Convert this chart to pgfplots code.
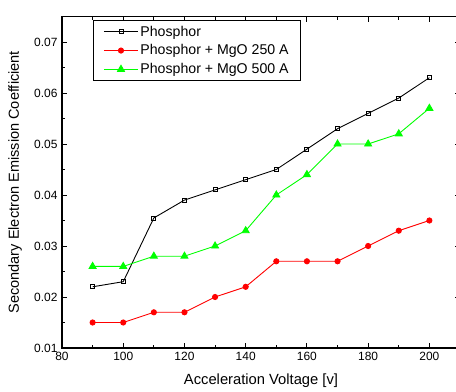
\documentclass[border=0pt]{standalone}
\usepackage{fontspec}
\setmainfont{Liberation Sans}
\usepackage{pgfplots}
\pgfplotsset{compat=1.18}
\definecolor{myred}{RGB}{255,0,0}
\definecolor{mygreen}{RGB}{0,255,0}
\begin{document}
\begin{tikzpicture}
\begin{axis}[
  at={(0,0)}, anchor=south west,
  scale only axis,
  width=398bp, height=331.5bp,
  xmin=80, xmax=210, ymin=0.01, ymax=0.075,
  xtick={80,100,...,200},
  ytick={0.01,0.02,...,0.07},
  minor x tick num=1, minor y tick num=1,
  tick align=inside,
  major tick length=5bp, minor tick length=3bp,
  axis line style={line width=1.1pt},
  tick style={line width=0.9pt, black},
  yticklabel style={/pgf/number format/fixed, /pgf/number format/precision=2, /pgf/number format/fixed zerofill, font=\fontsize{12}{14}\selectfont, xshift=-1bp},
  xticklabel style={font=\fontsize{12}{14}\selectfont, yshift=-1bp},
  /pgf/number format/assume math mode=true,
  scaled y ticks=false,
  xlabel={Acceleration Voltage [v]},
  ylabel={Secondary Electron Emission Coefficient},
  xlabel style={font=\fontsize{14.8}{16}\selectfont, at={(axis description cs:0.5,-0.1)}, anchor=center},
  ylabel style={font=\fontsize{14.6}{16}\selectfont, at={(axis description cs:-0.118,0.5)}, anchor=center},
  legend style={at={(axis description cs:0.078,0.988)}, anchor=north west, draw=black, line width=1pt, font=\fontsize{14.2}{16}\selectfont, row sep=3bp, inner ysep=3bp, inner xsep=10bp},
  legend cell align=left,
  legend image code/.code={\draw[#1, line width=0.9pt] (0cm,0cm) -- (34bp,0cm); \draw[#1, mark repeat=1] plot coordinates {(17bp,0cm)};},
]
\addplot[black, line width=0.9pt, mark=square, mark size=2bp, mark options={line width=0.9pt, solid}] coordinates {
(90,0.022) (100,0.023) (110,0.0355) (120,0.039) (130,0.041) (140,0.043) (150,0.045) (160,0.049) (170,0.053) (180,0.056) (190,0.059) (200,0.063)};
\addlegendentry{Phosphor}
\addplot[myred, line width=0.9pt, mark=*, mark size=2.6bp, mark options={solid}] coordinates {
(90,0.015) (100,0.015) (110,0.017) (120,0.017) (130,0.020) (140,0.022) (150,0.027) (160,0.027) (170,0.027) (180,0.030) (190,0.033) (200,0.035)};
\addlegendentry{Phosphor + MgO 250 A}
\addplot[mygreen, line width=0.9pt, mark=triangle*, mark size=4bp, mark options={solid}] coordinates {
(90,0.026) (100,0.026) (110,0.028) (120,0.028) (130,0.030) (140,0.033) (150,0.040) (160,0.044) (170,0.050) (180,0.050) (190,0.052) (200,0.057)};
\addlegendentry{Phosphor + MgO 500 A}
\end{axis}
\pgfresetboundingbox
\path[use as bounding box] (-62bp,-44bp) rectangle (394bp,348bp);
\end{tikzpicture}
\end{document}
